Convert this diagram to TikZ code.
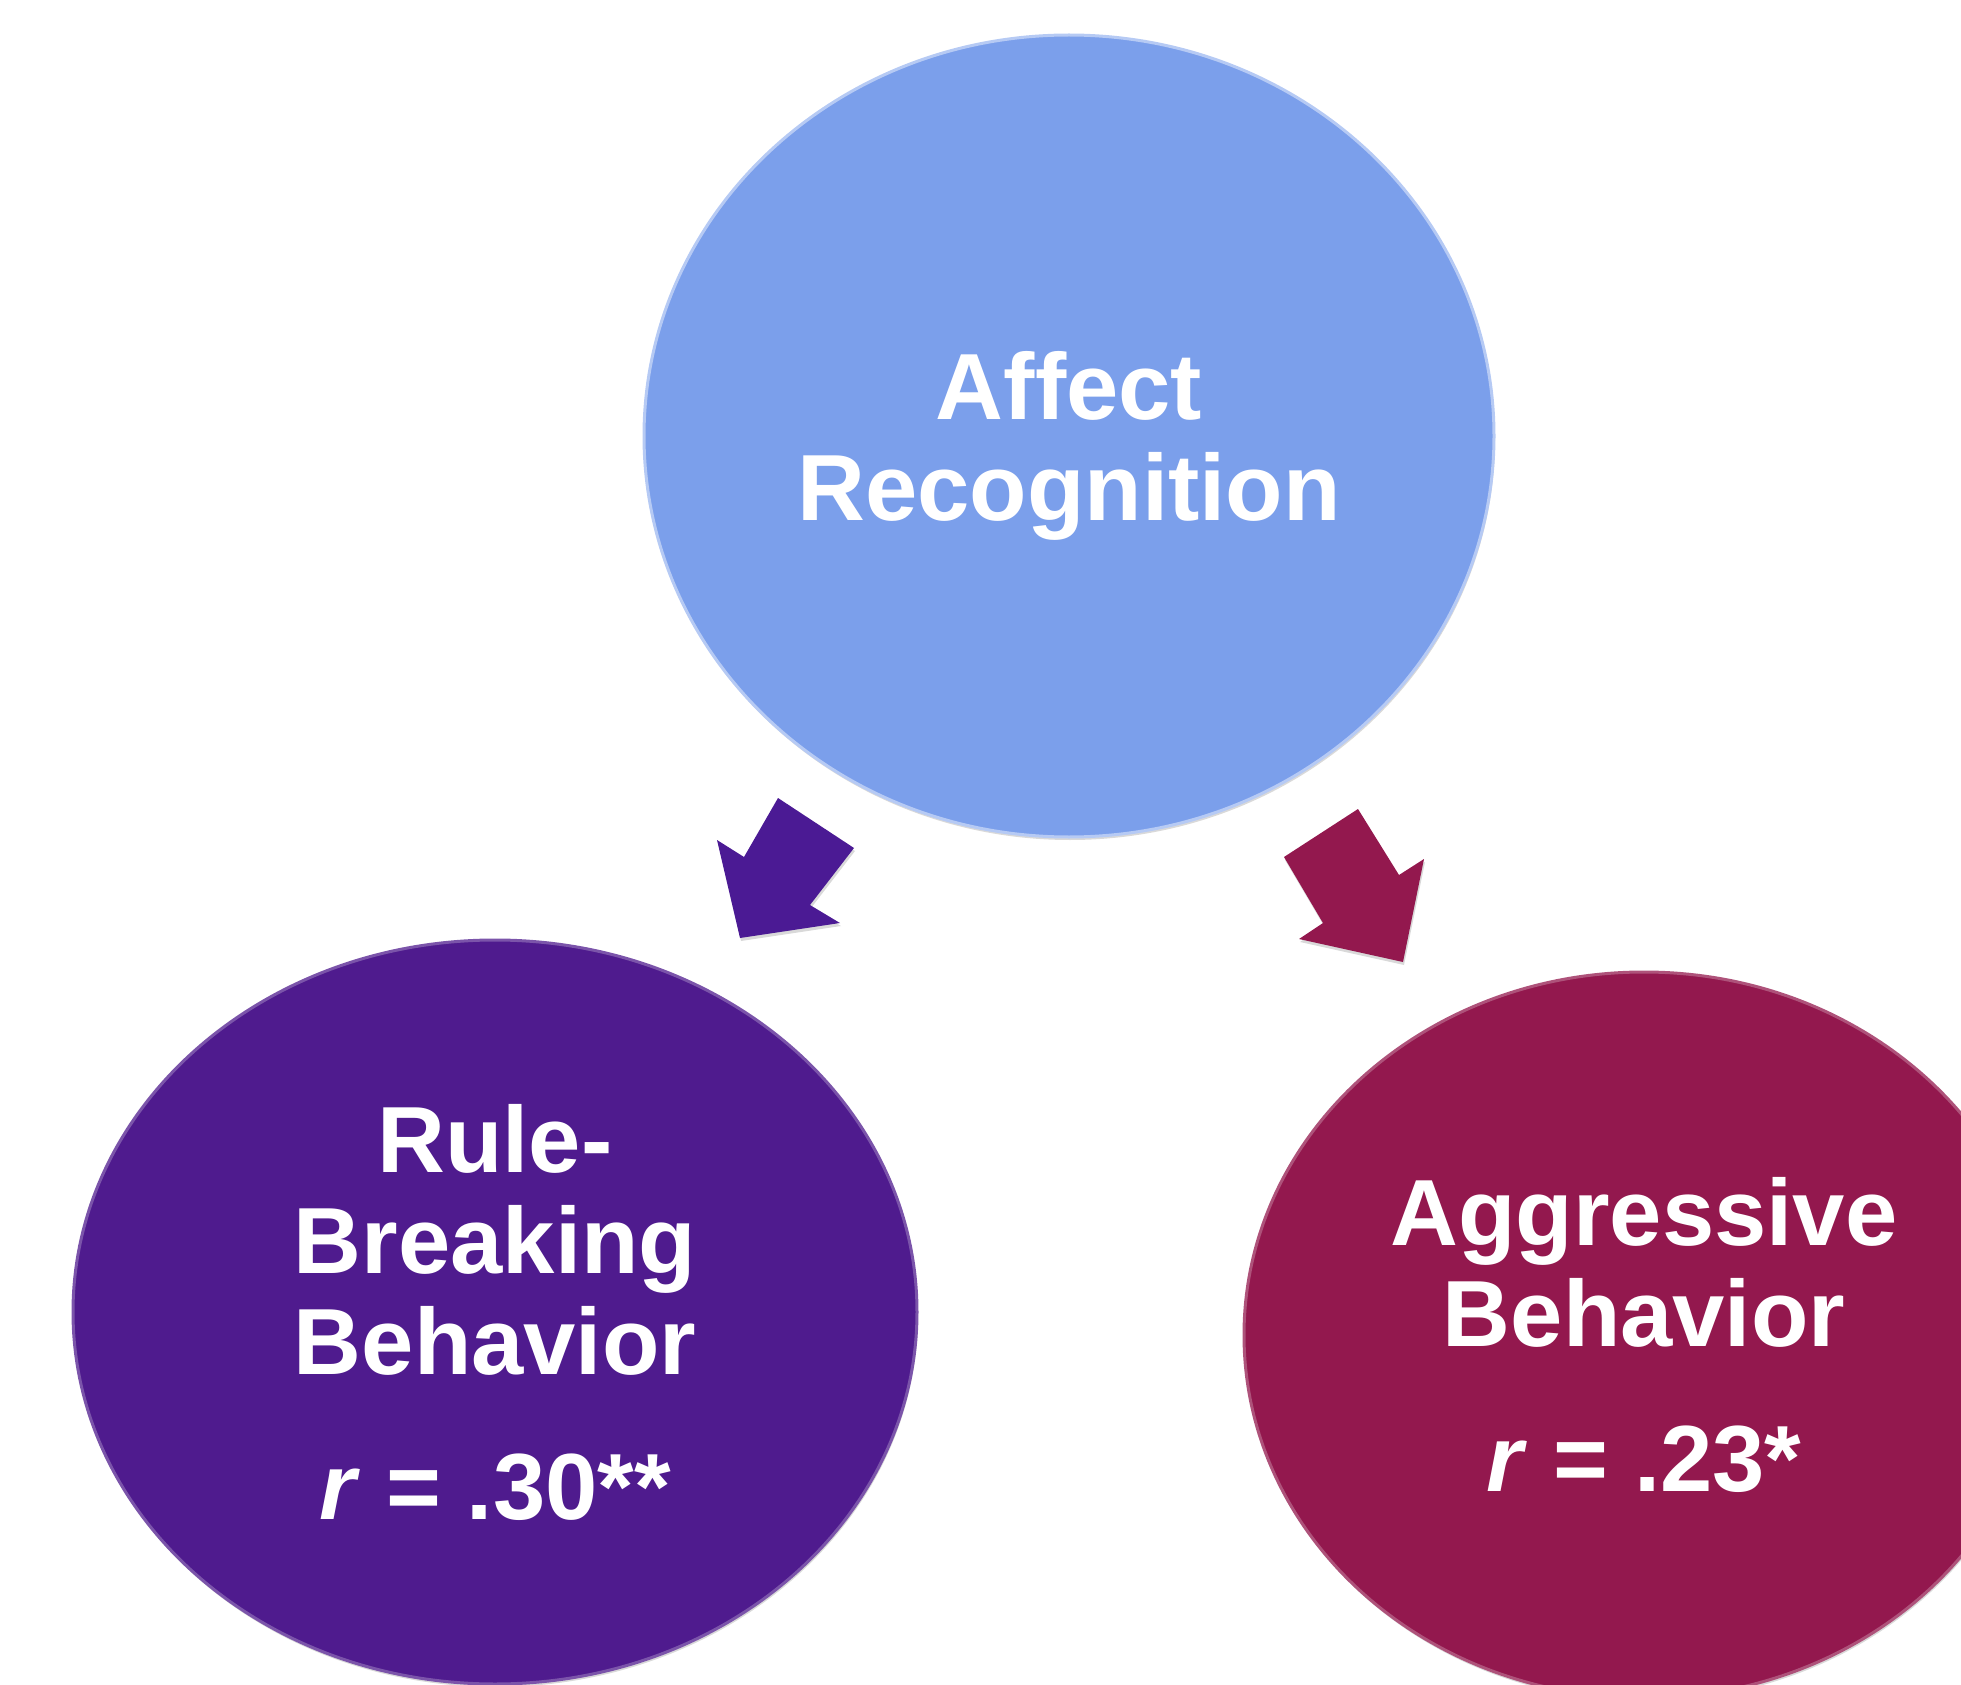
\documentclass[tikz,border=0pt]{standalone}
\usepackage{fontspec}
\setmainfont{Liberation Sans}
\usetikzlibrary{shapes.geometric,shadows}

\definecolor{affectblue}{RGB}{123,159,235}
\definecolor{rulepurple}{RGB}{79,27,142}
\definecolor{aggrmagenta}{RGB}{147,24,78}

\begin{document}
\begin{tikzpicture}[x=0.5pt,y=-0.5pt,
    softshadow/.style={drop shadow={opacity=0.3, shadow xshift=0.5pt, shadow yshift=-1.5pt}},
    bubble/.style={ellipse, inner sep=0pt, text=white, align=center, line width=1.5pt,
      font=\fontsize{47}{50.5}\selectfont\bfseries, softshadow}]
    \clip (0,0) rectangle (1961,1685);
    % the three circles
    \node[bubble, fill=affectblue, draw=affectblue!55!white, text depth=0pt, minimum width=425pt, minimum height=401pt] (affect) at (1069,436) {Affect\\Recognition};
    \node[bubble, fill=rulepurple, draw=rulepurple!75!white, minimum width=422pt, minimum height=372pt] (rule) at (495,1312) {Rule-\\Breaking\\Behavior\\[22pt]\textit{r} = .30**};
    \node[bubble, fill=aggrmagenta, draw=aggrmagenta!75!white, minimum width=400pt, minimum height=363pt] (aggr) at (1644,1335) {Aggressive\\Behavior\\[22pt]\textit{r} = .23*};
    % block arrows
    \fill[rulepurple!95!blue, softshadow] (740,938) -- (717,840) -- (744,857) -- (778,798) -- (854,848) -- (810,905) -- (840,923) -- cycle;
    \fill[aggrmagenta, softshadow] (1403,962) -- (1299,939) -- (1323,923) -- (1284,857) -- (1358,809) -- (1399,875) -- (1424,859) -- cycle;
\end{tikzpicture}
\end{document}
